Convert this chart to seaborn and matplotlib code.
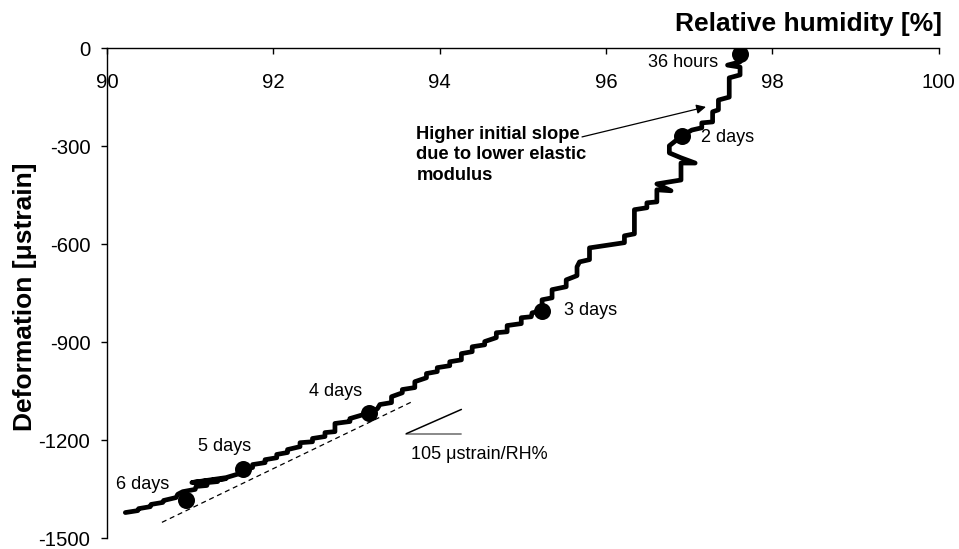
import matplotlib
matplotlib.use("Agg")
import matplotlib.pyplot as plt
import numpy as np
import pandas as pd
import seaborn as sns

# Measured deformation versus relative humidity (drying path, 36 h -> 6 days)
rh = [90.22, 90.37, 90.38, 90.52, 90.53, 90.67, 90.68, 90.83, 90.85, 90.91,
      91.06, 91.07, 91.20, 91.21, 91.33, 91.34, 91.43, 91.02, 91.43, 91.60,
      91.63, 91.75, 91.75, 91.90, 91.90, 92.04,
      92.04, 92.17, 92.17, 92.32, 92.32, 92.47, 92.47, 92.62, 92.62, 92.74,
      92.74, 92.92, 92.92, 93.04, 93.15, 93.25, 93.28, 93.42, 93.42, 93.55,
      93.55, 93.70, 93.70, 93.84, 93.84, 93.97, 93.97, 94.12, 94.12, 94.26,
      94.26, 94.39, 94.39, 94.54, 94.54, 94.68, 94.68, 94.81, 94.81, 94.98,
      94.98, 95.10, 95.11, 95.23, 95.23, 95.35, 95.35, 95.52, 95.52, 95.65,
      95.65, 95.68, 95.80, 95.80, 96.22, 96.22, 96.34, 96.34, 96.49, 96.49,
      96.61, 96.61, 96.78, 96.61, 96.90, 96.90, 97.07, 96.90, 96.76, 96.76,
      96.91, 97.03, 97.15, 97.15, 97.28, 97.28, 97.35, 97.35, 97.48, 97.48,
      97.61, 97.61, 97.46, 97.61, 97.61]
deformation = [-1422, -1416, -1410, -1404, -1397, -1391, -1385, -1376, -1366, -1358,
               -1351, -1342, -1339, -1330, -1327, -1321, -1318, -1330, -1315, -1302,
               -1292, -1284, -1275, -1269, -1260, -1254,
               -1244, -1238, -1229, -1220, -1208, -1205, -1195, -1189, -1177, -1174,
               -1149, -1143, -1134, -1125, -1116, -1104, -1091, -1085, -1067, -1055,
               -1045, -1039, -1021, -1009, -996, -990, -978, -972, -960, -954,
               -935, -929, -914, -908, -898, -886, -871, -868, -849, -843,
               -825, -822, -810, -804, -770, -764, -739, -730, -709, -696,
               -669, -654, -647, -611, -595, -574, -568, -494, -488, -473,
               -470, -433, -436, -415, -403, -351, -351, -335, -320, -298,
               -268, -250, -243, -228, -225, -194, -188, -158, -149, -90,
               -81, -57, -51, -41, -17]

# Sample ages marked on the curve
ages = ["36 hours", "2 days", "3 days", "4 days", "5 days", "6 days"]
age_rh = [97.61, 96.91, 95.23, 93.15, 91.63, 90.95]
age_def = [-17, -268, -804, -1116, -1287, -1382]

# Tangent line of the late, linear part and its slope triangle
tangent_rh = [90.66, 93.67]
tangent_def = [-1452, -1082]
slope_rh = [93.60, 94.26]
slope_def = [-1180, -1106]
slope_label = "105 \u03bcstrain/RH%"

x_ticks = [90, 92, 94, 96, 98, 100]
y_ticks = [0, -300, -600, -900, -1200, -1500]

sns.set_style("white")
plt.rcParams["font.family"] = ["Liberation Sans", "DejaVu Sans"]
plt.rcParams["text.color"] = "black"
plt.rcParams["axes.labelcolor"] = "black"
plt.rcParams["xtick.color"] = "black"
plt.rcParams["ytick.color"] = "black"

fig = plt.figure(figsize=(9.59, 5.49), dpi=100)
ax = fig.add_axes([0.1116, 0.02, 0.979 - 0.1116, 0.9117 - 0.02])

curve = pd.DataFrame({"rh": rh, "deformation": deformation})
sns.lineplot(data=curve, x="rh", y="deformation", sort=False, estimator=None,
             color="black", linewidth=3.4, ax=ax)

ages_df = pd.DataFrame({"rh": age_rh, "deformation": age_def, "age": ages})
sns.scatterplot(data=ages_df, x="rh", y="deformation", color="black", s=150,
                edgecolor="black", linewidth=0, zorder=5, ax=ax)

label_offsets = [(-16, -6, "right"), (14, -1, "left"), (16, 0, "left"),
                 (-24, 15, "center"), (-13, 16, "center"), (-31, 11, "center")]
for name, x, y, (dx, dy, ha) in zip(ages, age_rh, age_def, label_offsets):
    ax.annotate(name, (x, y), xytext=(dx, dy), textcoords="offset points",
                ha=ha, va="center", fontsize=13, color="black")

# dashed tangent
sns.lineplot(x=tangent_rh, y=tangent_def, color="black", linewidth=0.9,
             linestyle=(0, (4, 3)), ax=ax)

# slope triangle
ax.plot([slope_rh[0], slope_rh[1]], [slope_def[0], slope_def[0]],
        color="#808080", linewidth=1.3)
ax.plot([slope_rh[0], slope_rh[1]], [slope_def[0], slope_def[1]],
        color="black", linewidth=1.1)
ax.text(93.66, -1244, slope_label, fontsize=13, ha="left", va="center")

# annotation about the initial slope
ax.text(93.72, -326, "Higher initial slope\ndue to lower elastic\nmodulus",
        fontsize=13.2, fontweight="bold", ha="left", va="center", linespacing=1.25)
ax.annotate("", xy=(97.20, -179), xytext=(95.71, -271),
            arrowprops=dict(arrowstyle="-|>", color="black", lw=0.9,
                            mutation_scale=14, shrinkA=0, shrinkB=0))

ax.set_xlim(90, 100)
ax.set_ylim(-1500, 0)
ax.set_xticks(x_ticks)
ax.set_yticks(y_ticks)
ax.set_xticklabels([str(t) for t in x_ticks])
ax.set_yticklabels([str(t) for t in y_ticks])

ax.spines["bottom"].set_position(("data", 0))
ax.spines["top"].set_visible(False)
ax.spines["right"].set_visible(False)
for s in ("bottom", "left"):
    ax.spines[s].set_color("black")
    ax.spines[s].set_linewidth(1.0)

ax.tick_params(axis="x", direction="out", length=4, width=1, pad=13.5,
               labelsize=14.7, colors="black", bottom=True)
ax.tick_params(axis="y", direction="out", length=4, width=1, pad=8,
               labelsize=14.7, colors="black", left=True)
ax.set_xlabel("")
ax.set_ylabel("")

fig.text(942 / 959, 1 - 24 / 549, "Relative humidity [%]", fontsize=19,
         fontweight="bold", ha="right", va="center", color="black")
fig.text(25 / 959, 1 - 297 / 549, "Deformation [\u03bcstrain]", fontsize=19,
         fontweight="bold", ha="center", va="center", rotation=90, color="black")

fig.savefig("out.png", dpi=100)
